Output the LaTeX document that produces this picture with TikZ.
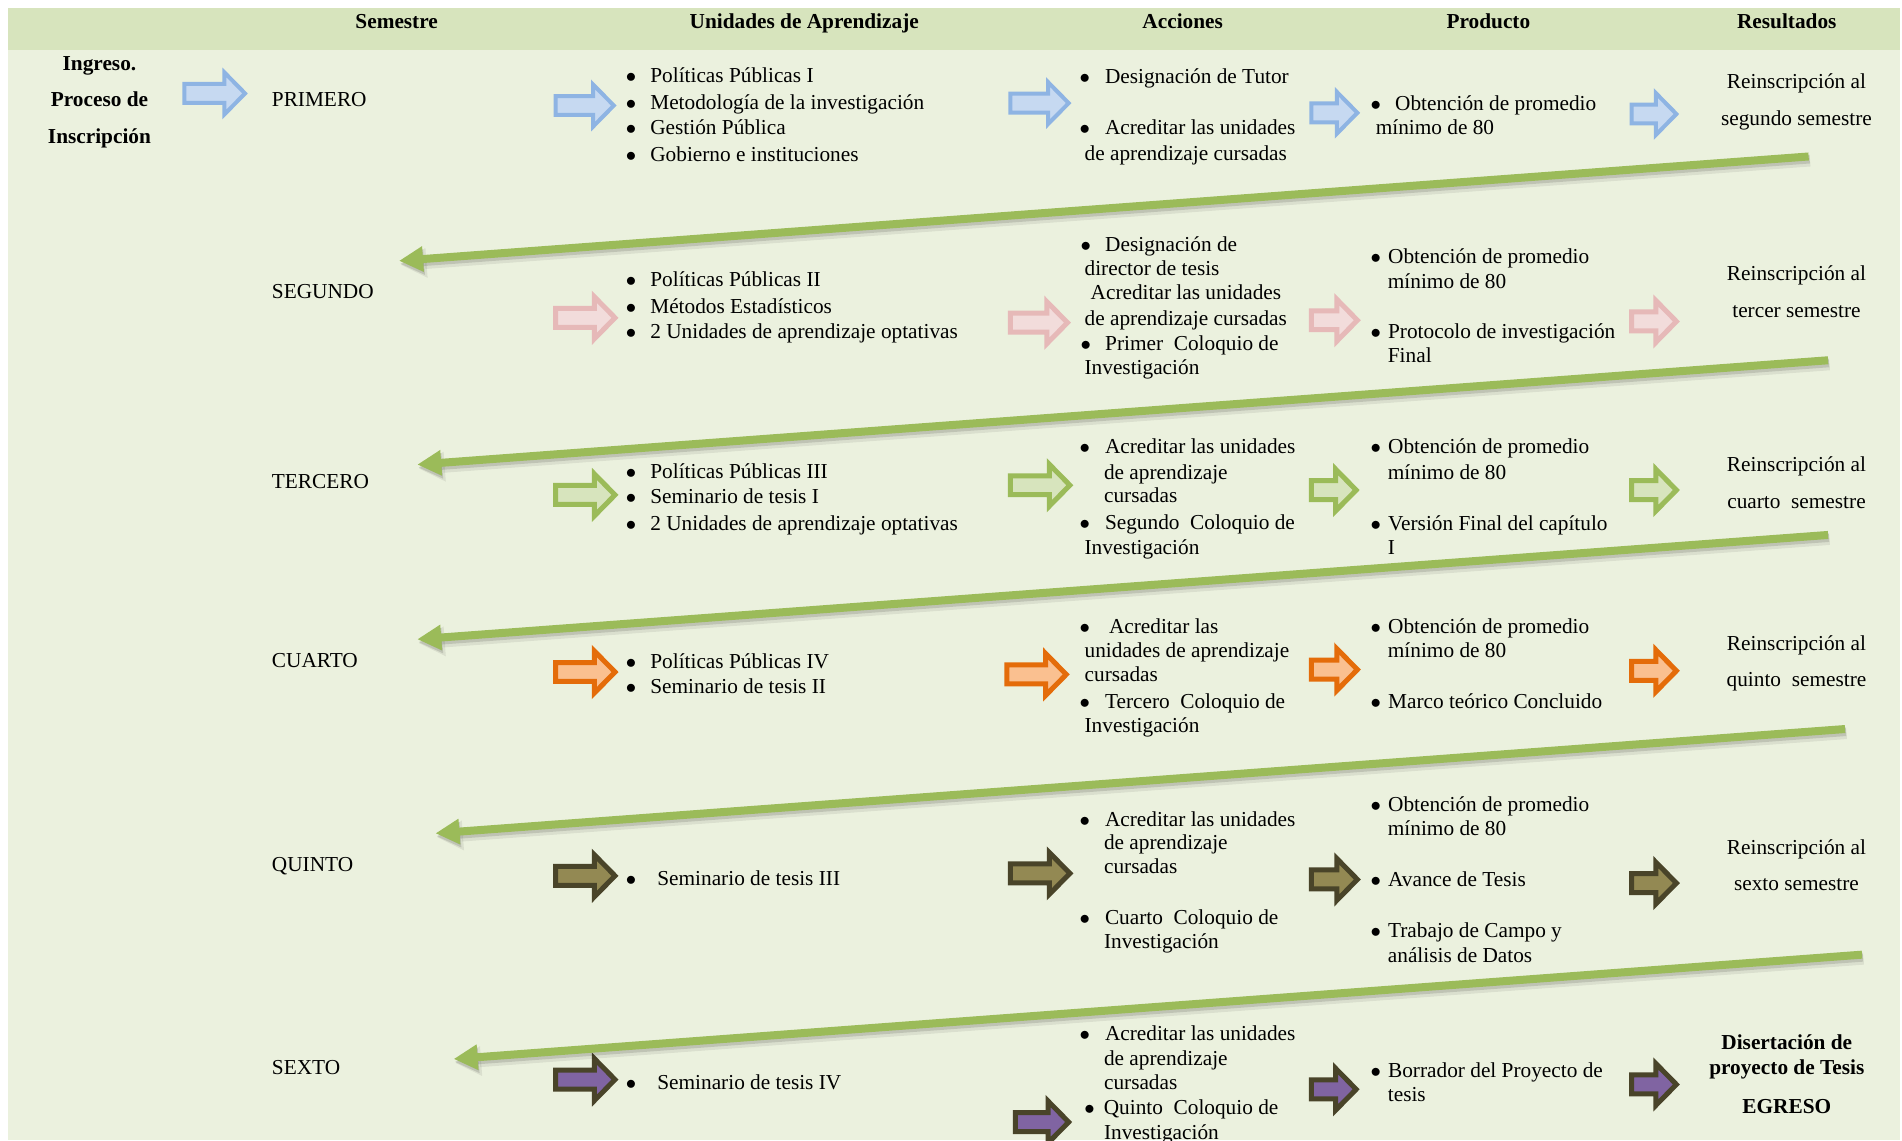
\documentclass[tikz,border=0pt]{standalone}
\usepackage{fontspec}
\setmainfont{Liberation Serif}
\usetikzlibrary{arrows.meta}
\definecolor{hdrbg}{HTML}{D7E4BD}
\definecolor{bodybg}{HTML}{EBF1DE}
\definecolor{gline}{HTML}{9BBB59}
\definecolor{bluef}{HTML}{C6D9F1}\definecolor{blued}{HTML}{8EB4E3}
\definecolor{pinkf}{HTML}{F2DCDB}\definecolor{pinkd}{HTML}{E6B9B8}
\definecolor{greenf}{HTML}{D7E4BD}\definecolor{greend}{HTML}{9BBB59}
\definecolor{orangef}{HTML}{FAC090}\definecolor{oranged}{HTML}{E46C0A}
\definecolor{olivef}{HTML}{938953}\definecolor{olived}{HTML}{494429}
\definecolor{purplef}{HTML}{8064A2}
\newcounter{tn}
\newcommand\tx[3]{\stepcounter{tn}\node[txt] (t\arabic{tn}) at (#1,#2) {#3};}
\newcommand\tc[3]{\stepcounter{tn}\node[txtc] (t\arabic{tn}) at (#1,#2) {#3};}
\newcommand\bu[1][23]{\makebox[#1pt][l]{\hspace*{-1.5pt}$\bullet$}\ignorespaces}
\newcommand\barrow[4]{%
  \begin{scope}[shift={(#1,#2)}]
    \draw[barrowst,#4] (2,-7.8) -- ({#3-19},-7.8) -- ({#3-19},-17.3) -- ({#3-2},0)
      -- ({#3-19},17.3) -- ({#3-19},7.8) -- (2,7.8) -- cycle;
  \end{scope}}
\newcommand\gl[2]{%
  \draw[gshadowa,transform canvas={shift={(1.5pt,-4pt)}}] (#1) -- (#2);
  \draw[gshadowb,transform canvas={shift={(1pt,-3pt)}}] (#1) -- (#2);
  \draw[garrow] (#1) -- (#2);}
\begin{document}
\begin{tikzpicture}[x=1.2130pt,y=-1.2130pt,
  txt/.style={anchor=west,inner sep=0pt,text height=17.5pt,text depth=2.7pt,font=\fontsize{21.3}{25.5}\selectfont},
  txtc/.style={anchor=center,inner sep=0pt,text height=17.5pt,text depth=2.7pt,font=\fontsize{21.3}{25.5}\selectfont},
  hdr/.style={txtc,font=\fontsize{21.3}{25.5}\selectfont\bfseries},
  barrowst/.style={line width=5pt,line join=miter},
  blue/.style={fill=bluef,draw=blued,line width=4pt},
  pink/.style={fill=pinkf,draw=pinkd},
  green/.style={fill=greenf,draw=greend},
  orange/.style={fill=orangef,draw=oranged},
  olive/.style={fill=olivef,draw=olived},
  purple/.style={fill=purplef,draw=olived},
  garrow/.style={draw=gline,line width=8pt,-{Triangle[length=24pt,width=24pt]}},
  gshadowa/.style={draw=black,opacity=0.07,line width=12pt,-{Triangle[length=26pt,width=28pt]}},
  gshadowb/.style={draw=black,opacity=0.12,line width=8pt,-{Triangle[length=24pt,width=24pt]}}]
\useasboundingbox (0,0) rectangle (1568,940);
\fill[white] (0,0) rectangle (1568,940);
\fill[bodybg] (7,41) rectangle (1566,940);
\fill[hdrbg] (7,7) rectangle (1566,41);
% header
\node[hdr] (h1) at (327,17) {Semestre};
\node[hdr] (h2) at (663,17) {Unidades de Aprendizaje};
\node[hdr] (h3) at (975,17) {Acciones};
\node[hdr] (h4) at (1227,17) {Producto};
\node[hdr] (h5) at (1473,17) {Resultados};
% left
\node[hdr] (in1) at (82,52) {Ingreso.};
\node[hdr] (in2) at (82,82) {Proceso de};
\node[hdr] (in3) at (82,112) {Inscripción};
% semesters
\tx{224}{82}{PRIMERO}
\tx{224}{240}{SEGUNDO}
\tx{224}{397}{TERCERO}
\tx{224}{544}{CUARTO}
\tx{224}{712}{QUINTO}
\tx{224}{880}{SEXTO}
% units
\tx{517}{62}{\bu Políticas Públicas I}
\tx{517}{84}{\bu Metodología de la investigación}
\tx{517}{105}{\bu Gestión Pública}
\tx{517}{127}{\bu Gobierno e instituciones}
\tx{517}{230}{\bu Políticas Públicas II}
\tx{517}{252}{\bu Métodos Estadísticos}
\tx{517}{273}{\bu 2 Unidades de aprendizaje optativas}
\tx{517}{388}{\bu Políticas Públicas III}
\tx{517}{409}{\bu Seminario de tesis I}
\tx{517}{431}{\bu 2 Unidades de aprendizaje optativas}
\tx{517}{545}{\bu Políticas Públicas IV}
\tx{517}{566}{\bu Seminario de tesis II}
\tx{517}{724}{\bu[30] Seminario de tesis III}
\tx{517}{892}{\bu[30] Seminario de tesis IV}
% acciones
\tx{891}{63}{\bu[24] Designación de Tutor}
\tx{891}{105}{\bu[24] Acreditar las unidades}
\tx{894}{126}{de aprendizaje cursadas}
\tx{892}{201}{\bu[23] Designación de}
\tx{894}{221}{director de tesis}
\tx{899}{241}{Acreditar las unidades}
\tx{894}{262}{de aprendizaje cursadas}
\tx{892}{283}{\bu[23] Primer~ Coloquio de}
\tx{894}{303}{Investigación}
\tx{891}{368}{\bu[24] Acreditar las unidades}
\tx{910}{389}{de aprendizaje}
\tx{910}{408}{cursadas}
\tx{891}{430}{\bu[24] Segundo~ Coloquio de}
\tx{894}{451}{Investigación}
\tx{891}{516}{\bu[28] Acreditar las}
\tx{894}{536}{unidades de aprendizaje}
\tx{894}{556}{cursadas}
\tx{891}{578}{\bu[24] Tercero~ Coloquio de}
\tx{894}{598}{Investigación}
\tx{891}{675}{\bu[24] Acreditar las unidades}
\tx{910}{694}{de aprendizaje}
\tx{910}{714}{cursadas}
\tx{891}{756}{\bu[24] Cuarto~ Coloquio de}
\tx{910}{776}{Investigación}
\tx{891}{852}{\bu[24] Acreditar las unidades}
\tx{910}{872}{de aprendizaje}
\tx{910}{892}{cursadas}
\tx{895}{913}{\bu[18] Quinto~ Coloquio de}
\tx{910}{933}{Investigación}
% producto
\tx{1131}{85}{\bu[23] Obtención de promedio}
\tx{1134}{105}{mínimo de 80}
\tx{1131}{211}{\bu[16] Obtención de promedio}
\tx{1144}{232}{mínimo de 80}
\tx{1131}{273}{\bu[16] Protocolo de investigación}
\tx{1144}{293}{Final}
\tx{1131}{368}{\bu[16] Obtención de promedio}
\tx{1144}{389}{mínimo de 80}
\tx{1131}{431}{\bu[16] Versión Final del capítulo}
\tx{1144}{451}{I}
\tx{1131}{516}{\bu[16] Obtención de promedio}
\tx{1144}{536}{mínimo de 80}
\tx{1131}{578}{\bu[16] Marco teórico Concluido}
\tx{1131}{663}{\bu[16] Obtención de promedio}
\tx{1144}{683}{mínimo de 80}
\tx{1131}{725}{\bu[16] Avance de Tesis}
\tx{1131}{767}{\bu[16] Trabajo de Campo y}
\tx{1144}{787}{análisis de Datos}
\tx{1131}{882}{\bu[16] Borrador del Proyecto de}
\tx{1144}{902}{tesis}
% resultados
\tc{1481}{67}{Reinscripción al}
\tc{1481}{97}{segundo semestre}
\tc{1481}{225}{Reinscripción al}
\tc{1481}{256}{tercer semestre}
\tc{1481}{383}{Reinscripción al}
\tc{1481}{413}{cuarto~ semestre}
\tc{1481}{530}{Reinscripción al}
\tc{1481}{560}{quinto~ semestre}
\tc{1481}{698}{Reinscripción al}
\tc{1481}{728}{sexto semestre}
\node[hdr] (r6a) at (1473,859) {Disertación de};
\node[hdr] (r6b) at (1473,880) {proyecto de Tesis};
\node[hdr] (r6c) at (1473,912) {EGRESO};
% block arrows
\barrow{150}{77}{54}{blue}
\barrow{456}{87}{52}{blue}
\barrow{831}{85}{52}{blue}
\barrow{1079}{93}{42}{blue}
\barrow{1343}{94}{41}{blue}
\barrow{456}{262}{53}{pink}
\barrow{831}{266}{51}{pink}
\barrow{1079}{264}{42}{pink}
\barrow{1343}{265}{41}{pink}
\barrow{456}{408}{53}{green}
\barrow{831}{400}{53}{green}
\barrow{1079}{404}{41}{green}
\barrow{1343}{404}{41}{green}
\barrow{456}{554}{53}{orange}
\barrow{828}{556}{53}{orange}
\barrow{1079}{552}{42}{orange}
\barrow{1343}{553}{41}{orange}
\barrow{456}{722}{53}{olive}
\barrow{831}{720}{53}{olive}
\barrow{1079}{725}{42}{olive}
\barrow{1343}{728}{41}{olive}
\barrow{456}{890}{53}{purple}
\barrow{835}{925}{48}{purple}
\barrow{1079}{898}{41}{purple}
\barrow{1343}{894}{41}{purple}
% green return lines
\coordinate (g1s) at (1491,129); \coordinate (g1e) at (329,215);
\coordinate (g2s) at (1507,297); \coordinate (g2e) at (344,383);
\coordinate (g3s) at (1507,441); \coordinate (g3e) at (344,527);
\coordinate (g4s) at (1521,601); \coordinate (g4e) at (359,687);
\coordinate (g5s) at (1535,787); \coordinate (g5e) at (374,873);
\gl{g1s}{g1e}
\gl{g2s}{g2e}
\gl{g3s}{g3e}
\gl{g4s}{g4e}
\gl{g5s}{g5e}
\end{tikzpicture}
\end{document}
